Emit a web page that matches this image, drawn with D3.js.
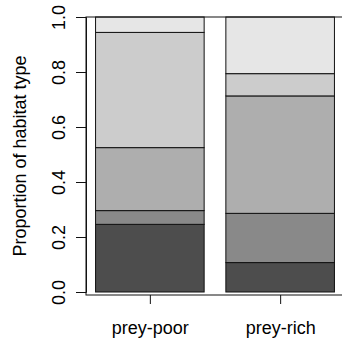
<!DOCTYPE html>
<html>
<head>
<meta charset="utf-8">
<script src="https://cdn.jsdelivr.net/npm/d3@7"></script>
<style>
  html, body { margin: 0; padding: 0; background: #fff; }
  svg { display: block; font-family: "Liberation Sans", Arial, sans-serif; }
</style>
</head>
<body>
<svg id="chart" width="342" height="341"></svg>
<script>
// Stacked proportions of habitat types, one bar per site class
const categories = ["prey-poor", "prey-rich"];
const habitat1 = [0.246, 0.107];
const habitat2 = [0.050, 0.179];
const habitat3 = [0.229, 0.427];
const habitat4 = [0.419, 0.081];
const habitat5 = [0.056, 0.206];
const seriesNames = ["h1", "h2", "h3", "h4", "h5"];
const seriesColors = ["#4D4D4D", "#898989", "#AEAEAE", "#CCCCCC", "#E6E6E6"];
const yTicks = [0, 0.2, 0.4, 0.6, 0.8, 1.0];
const yTitle = "Proportion of habitat type";

const series = [habitat1, habitat2, habitat3, habitat4, habitat5];
const rows = categories.map((c, i) => {
  const r = { cat: c };
  seriesNames.forEach((s, k) => { r[s] = series[k][i]; });
  return r;
});
const stacked = d3.stack().keys(seriesNames)(rows);

const svg = d3.select("#chart");
const box = { left: 86, right: 344, top: 17, bottom: 295 };

// bar positions follow barplot spacing: space 0.2, width 1
const barSpace = 0.2, barWidth = 1;
const starts = categories.map((c, i) => barSpace + i * (barSpace + barWidth));
const x = d3.scaleLinear().domain([0.112, 2.488]).range([box.left, box.right]);
const y = d3.scaleLinear().domain([0, 1]).range([292, 17]);

const layers = svg.append("g").selectAll("g")
  .data(stacked).join("g")
  .attr("fill", (d, k) => seriesColors[k]);

layers.selectAll("rect")
  .data(d => d.map((v, i) => ({ v, i })))
  .join("rect")
  .attr("x", d => x(starts[d.i]))
  .attr("width", d => x(starts[d.i] + barWidth) - x(starts[d.i]))
  .attr("y", d => y(d.v[1]))
  .attr("height", d => y(d.v[0]) - y(d.v[1]))
  .attr("stroke", "#111")
  .attr("stroke-width", 1);

// frame
svg.append("rect")
  .attr("x", box.left).attr("y", box.top)
  .attr("width", box.right - box.left).attr("height", box.bottom - box.top)
  .attr("fill", "none").attr("stroke", "#111").attr("stroke-width", 1);

// y axis
const yAxis = svg.append("g")
  .attr("transform", `translate(${box.left},0)`)
  .call(d3.axisLeft(y).tickValues(yTicks).tickFormat(d3.format(".1f")).tickSize(10).tickPadding(11));
yAxis.select(".domain").attr("stroke", "#111");
yAxis.selectAll(".tick line").attr("stroke", "#111");
yAxis.selectAll(".tick text")
  .attr("font-size", 18).attr("fill", "#000")
  .attr("transform", "rotate(-90)")
  .attr("x", 0).attr("y", 0)
  .attr("dy", 0)
  .attr("text-anchor", "middle")
  .each(function() {
    d3.select(this).attr("transform", "translate(-21,0) rotate(-90)");
  });

// x axis ticks at bar centres
const centers = starts.map(s => s + barWidth / 2);
const xAxis = svg.append("g")
  .attr("transform", `translate(0,${box.bottom})`)
  .call(d3.axisBottom(x).tickValues(centers).tickFormat((d, i) => categories[i]).tickSize(9).tickPadding(17));
xAxis.select(".domain").remove();
xAxis.selectAll(".tick line").attr("stroke", "#111");
xAxis.selectAll(".tick text").attr("font-size", 18).attr("fill", "#000");

// y title
svg.append("text")
  .attr("transform", `translate(26,${(box.top + box.bottom) / 2}) rotate(-90)`)
  .attr("text-anchor", "middle")
  .attr("font-size", 18)
  .attr("fill", "#000")
  .text(yTitle);
</script>
</body>
</html>
